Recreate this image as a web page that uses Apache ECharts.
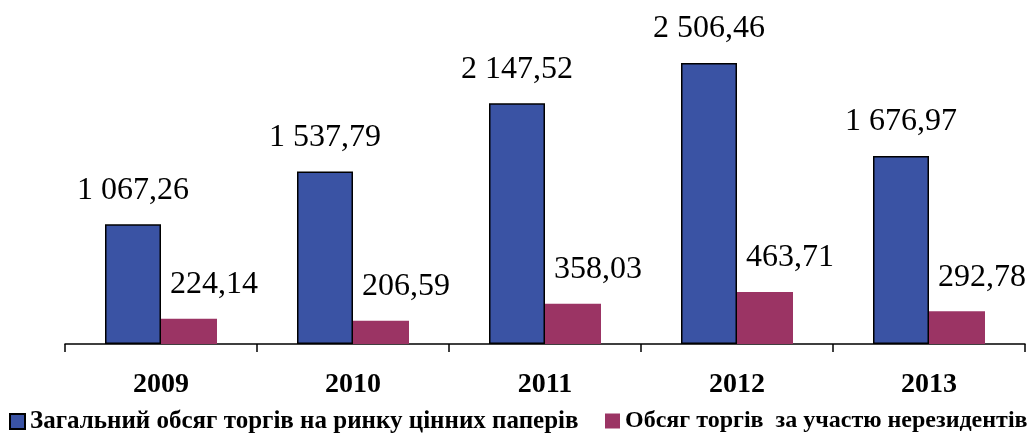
<!DOCTYPE html>
<html>
<head>
<meta charset="utf-8">
<script src="https://cdn.jsdelivr.net/npm/echarts@6/dist/echarts.min.js"></script>
<style>
  html, body { margin: 0; padding: 0; background: #fff; }
  #chart { width: 1035px; height: 438px; }
</style>
</head>
<body>
<div id="chart"></div>
<script>
// дані
const years = ["2009", "2010", "2011", "2012", "2013"];
const totalVolume = [1067.26, 1537.79, 2147.52, 2506.46, 1676.97];
const nonResidentVolume = [224.14, 206.59, 358.03, 463.71, 292.78];
const seriesNames = [
  "Загальний обсяг торгів на ринку цінних паперів",
  "Обсяг торгів  за участю нерезидентів",
];

const FONT = '"Liberation Serif", "Times New Roman", serif';

// 1 067,26 — пробіл для тисяч, кома як десятковий знак
function fmt(v) {
  const parts = v.toFixed(2).split(".");
  const int = parts[0].replace(/\B(?=(\d{3})+(?!\d))/g, " ");
  return int + "," + parts[1];
}

const legendText = { fontFamily: FONT, fontWeight: "bold", fontSize: 24, color: "#000" };

const chart = echarts.init(document.getElementById("chart"));
chart.setOption({
  animation: false,
  backgroundColor: "#fff",
  grid: { left: 65, right: 10, top: 20, bottom: 94 },
  legend: [
    {
      data: [seriesNames[0]],
      left: 9, top: 409, padding: 0,
      icon: "rect", itemWidth: 15, itemHeight: 15, itemGap: 5,
      textStyle: { ...legendText, fontSize: 25 },
    },
    {
      data: [seriesNames[1]],
      left: 605, top: 409, padding: 0,
      icon: "rect", itemWidth: 15, itemHeight: 15,
      textStyle: legendText,
    },
  ],
  xAxis: {
    type: "category",
    data: years,
    axisLine: { lineStyle: { color: "#000", width: 1.5 } },
    axisTick: { show: true, length: 8, lineStyle: { color: "#000", width: 1.5 } },
    axisLabel: {
      fontFamily: FONT, fontWeight: "bold", fontSize: 28, color: "#000", margin: 27,
    },
  },
  yAxis: {
    type: "value",
    min: 0, max: 2890,
    show: false,
    splitLine: { show: false },
  },
  series: [
    {
      name: seriesNames[0],
      type: "bar",
      data: totalVolume,
      barWidth: 56,
      barGap: "0%",
      itemStyle: { color: "#3A53A4", borderColor: "#000", borderWidth: 1.5 },
      label: {
        show: true, position: "top", distance: 18,
        formatter: (p) => fmt(p.value),
        fontFamily: FONT, fontSize: 32, color: "#000",
      },
    },
    {
      name: seriesNames[1],
      type: "bar",
      data: nonResidentVolume,
      barWidth: 56,
      itemStyle: { color: "#9B3464" },
      label: {
        show: true, position: "top", distance: 18, offset: [25, 0],
        formatter: (p) => fmt(p.value),
        fontFamily: FONT, fontSize: 32, color: "#000",
      },
    },
  ],
});
</script>
</body>
</html>
